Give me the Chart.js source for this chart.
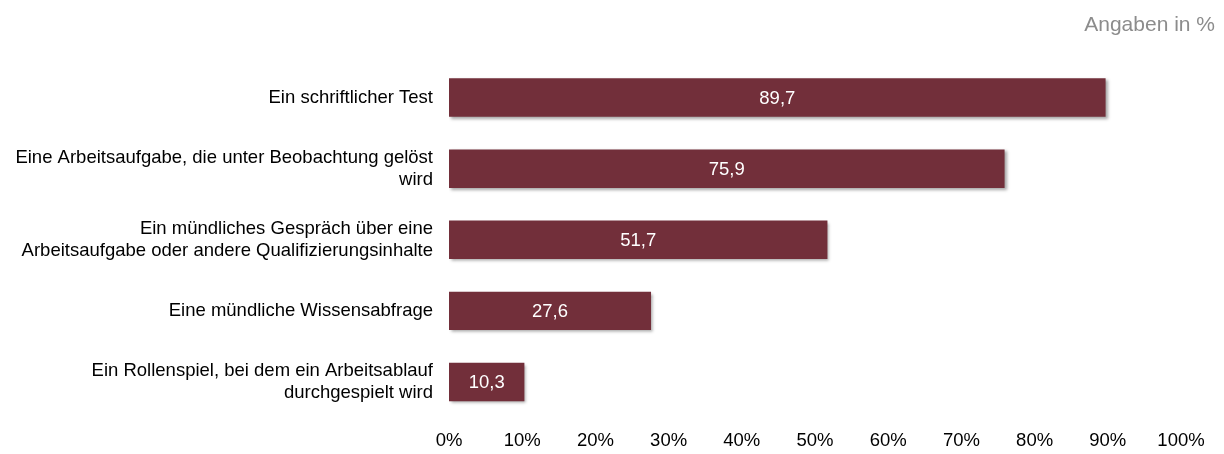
<!DOCTYPE html>
<html>
<head>
<meta charset="utf-8">
<script src="https://cdn.jsdelivr.net/npm/chart.js@4.4.1/dist/chart.umd.min.js"></script>
<style>
  html, body { margin: 0; padding: 0; background: #fff; }
  #wrap { width: 1224px; height: 454px; }
</style>
</head>
<body>
<div id="wrap"><canvas id="myChart" width="1224" height="454"></canvas></div>
<script>
const categories = [
    'Ein schriftlicher Test',
    ['Eine Arbeitsaufgabe, die unter Beobachtung gelöst', 'wird'],
    ['Ein mündliches Gespräch über eine', 'Arbeitsaufgabe oder andere Qualifizierungsinhalte'],
    'Eine mündliche Wissensabfrage',
    ['Ein Rollenspiel, bei dem ein Arbeitsablauf', 'durchgespielt wird']
];
const values = [89.7, 75.9, 51.7, 27.6, 10.3];
const xTicks = [0, 10, 20, 30, 40, 50, 60, 70, 80, 90, 100];
const unitNote = 'Angaben in %';

const barColor = '#722F3A';
const fontFamily = '"Liberation Sans", Arial, sans-serif';

// bars get a small drop shadow, labels drawn after without it
const shadowPlugin = {
    id: 'barShadow',
    beforeDatasetsDraw(chart) {
        const c = chart.ctx;
        c.save();
        c.shadowColor = 'rgba(0,0,0,0.35)';
        c.shadowBlur = 3;
        c.shadowOffsetX = 2;
        c.shadowOffsetY = 2;
    },
    afterDatasetsDraw(chart) {
        chart.ctx.restore();
    }
};

const valueLabels = {
    id: 'valueLabels',
    afterDatasetsDraw(chart) {
        const c = chart.ctx;
        const meta = chart.getDatasetMeta(0);
        c.save();
        c.fillStyle = '#ffffff';
        c.font = '18.5px ' + fontFamily;
        c.textAlign = 'center';
        c.textBaseline = 'middle';
        meta.data.forEach((bar, i) => {
            const x = (bar.base + bar.x) / 2;
            c.fillText(values[i].toFixed(1).replace('.', ','), x, bar.y + 1);
        });
        c.restore();
    }
};

const noteText = {
    id: 'noteText',
    afterDraw(chart) {
        const c = chart.ctx;
        c.save();
        c.fillStyle = '#8c8c8c';
        c.font = '21px ' + fontFamily;
        c.textAlign = 'right';
        c.textBaseline = 'middle';
        c.fillText(unitNote, 1215, 25);
        c.restore();
    }
};

const ctx = document.getElementById('myChart').getContext('2d');

new Chart(ctx, {
    type: 'bar',
    data: {
        labels: categories,
        datasets: [{
            data: values,
            backgroundColor: barColor,
            borderWidth: 0,
            barPercentage: 0.54,
            categoryPercentage: 1.0
        }]
    },
    options: {
        indexAxis: 'y',
        responsive: false,
        animation: false,
        layout: {
            padding: { top: 62, right: 43, left: 0, bottom: 0 }
        },
        plugins: {
            legend: { display: false },
            tooltip: { enabled: false }
        },
        scales: {
            x: {
                min: 0,
                max: 100,
                afterBuildTicks: (axis) => {
                    axis.ticks = xTicks.map(v => ({ value: v }));
                },
                afterFit: (scale) => { scale.height = 36.4; },
                grid: { display: false, drawTicks: false },
                border: { display: false },
                ticks: {
                    color: '#000',
                    padding: 12.5,
                    maxRotation: 0,
                    font: { size: 18.5, family: fontFamily },
                    callback: (v) => v + '%'
                }
            },
            y: {
                afterFit: (scale) => { scale.width = 449; },
                grid: { display: false, drawTicks: false },
                border: { display: false },
                ticks: {
                    color: '#000',
                    padding: 16,
                    font: { size: 18.5, family: fontFamily, lineHeight: 1.2 }
                }
            }
        }
    },
    plugins: [shadowPlugin, valueLabels, noteText]
});
</script>
</body>
</html>
